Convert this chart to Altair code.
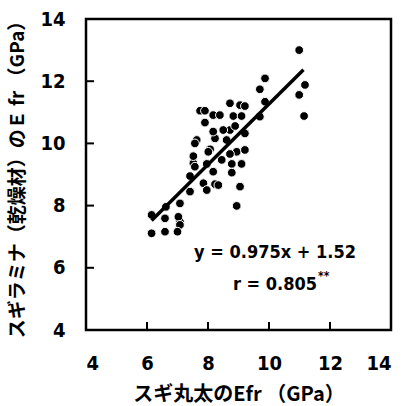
import altair as alt
import pandas as pd

# measured values (GPa)
log_E = [10.99, 9.87, 9.70, 11.18, 10.99, 11.15, 9.87, 9.70,
         7.74, 8.17, 9.05, 7.63, 7.52, 8.23, 7.08, 8.94, 8.72, 8.23,
         8.72, 9.21, 7.90, 8.39, 8.83, 9.10, 7.90, 8.17, 8.89, 9.21, 8.50,
         7.57, 8.07, 8.61, 9.21, 7.52, 8.01, 8.45, 8.72, 7.57, 7.96, 8.78,
         9.10, 8.78, 7.41, 8.17, 7.85, 8.34, 9.05, 7.41, 7.96, 8.94, 7.08,
         6.15, 6.59, 7.03, 7.08, 6.15, 6.59, 7.00, 6.62]
lam_E = [13.00, 12.09, 11.74, 11.88, 11.56, 10.88, 11.34, 10.86,
         11.05, 10.91, 11.23, 10.11, 9.36, 8.69, 7.48, 9.73, 10.43, 10.16,
         11.29, 11.20, 11.05, 10.91, 10.88, 10.88, 10.67, 10.38, 10.56, 10.32, 10.43,
         10.00, 9.81, 10.11, 9.79, 9.59, 9.73, 9.47, 9.66, 9.25, 9.34, 9.34,
         9.34, 9.06, 8.95, 9.09, 8.72, 8.66, 8.61, 8.45, 8.50, 7.99, 8.07,
         7.70, 7.59, 7.64, 7.38, 7.11, 7.16, 7.16, 7.96]

fit_x = [6.15, 11.13]
fit_y = [7.52, 12.37]

tick_vals = [4, 6, 8, 10, 12, 14]
inner_ticks = [6, 8, 10, 12]

x_title = "スギ丸太のEfr （GPa）"
y_title = "スギラミナ（乾燥材）のＥ fr （GPa）"
eq_text = ["y = 0.975x + 1.52"]
r_text = ["r = 0.805"]
sig_text = ["**"]

W, H = 305, 311
NUM_FONT = "DejaVu Sans Condensed"
JP_FONT = "Noto Sans CJK JP"

pts = pd.DataFrame({"x": log_E, "y": lam_E})
fit = pd.DataFrame({"x": fit_x, "y": fit_y})
xt = pd.DataFrame({"x": inner_ticks})
yt = pd.DataFrame({"y": inner_ticks})

xs = alt.Scale(domain=[4, 14], nice=False, zero=False)
ys = alt.Scale(domain=[4, 14], nice=False, zero=False)

common_axis = dict(values=tick_vals, grid=False, domain=False, ticks=False, tickSize=0,
                   labelFont=NUM_FONT, labelFontSize=20, labelFontWeight="bold",
                   labelColor="black", titleFont=JP_FONT,
                   titleFontWeight="bold", titleColor="black")
ax_x = alt.Axis(title=x_title, labelPadding=23, titlePadding=11, titleFontSize=20,
                **common_axis)
ax_y = alt.Axis(title=y_title, labelPadding=21, titlePadding=12, titleFontSize=19,
                **common_axis)

X = alt.X("x:Q", scale=xs, axis=ax_x)
Y = alt.Y("y:Q", scale=ys, axis=ax_y)

points = alt.Chart(pts).mark_circle(size=76, color="black", opacity=1,
                                    stroke="white", strokeWidth=1).encode(x=X, y=Y)

line = alt.Chart(fit).mark_line(color="black", strokeWidth=3.5).encode(x=X, y=Y)

xticks = alt.Chart(xt).mark_rule(color="black", strokeWidth=2).encode(
    x=X, y=alt.value(H), y2=alt.value(H - 8))
yticks = alt.Chart(yt).mark_rule(color="black", strokeWidth=2).encode(
    y=Y, x=alt.value(0), x2=alt.value(8))

eq = alt.Chart(pd.DataFrame({"t": eq_text})).mark_text(
    font=NUM_FONT, fontSize=18, fontWeight="bold", color="black",
    align="center", baseline="middle").encode(
    text="t:N", x=alt.value(189), y=alt.value(234))
rr = alt.Chart(pd.DataFrame({"t": r_text})).mark_text(
    font=NUM_FONT, fontSize=18, fontWeight="bold", color="black",
    align="right", baseline="middle").encode(
    text="t:N", x=alt.value(231), y=alt.value(266))
sig = alt.Chart(pd.DataFrame({"t": sig_text})).mark_text(
    font=NUM_FONT, fontSize=12, fontWeight="bold", color="black",
    align="left", baseline="middle").encode(
    text="t:N", x=alt.value(232), y=alt.value(257))

chart = alt.layer(points, line, xticks, yticks, eq, rr, sig).properties(
    width=W, height=H, background="white",
    padding={"left": 86, "top": 19, "right": 11, "bottom": 76},
    autosize=alt.AutoSizeParams(type="none"),
).configure_view(stroke="black", strokeWidth=2.5)

chart.save("out.html", embed_options={"renderer": "svg", "actions": False})
